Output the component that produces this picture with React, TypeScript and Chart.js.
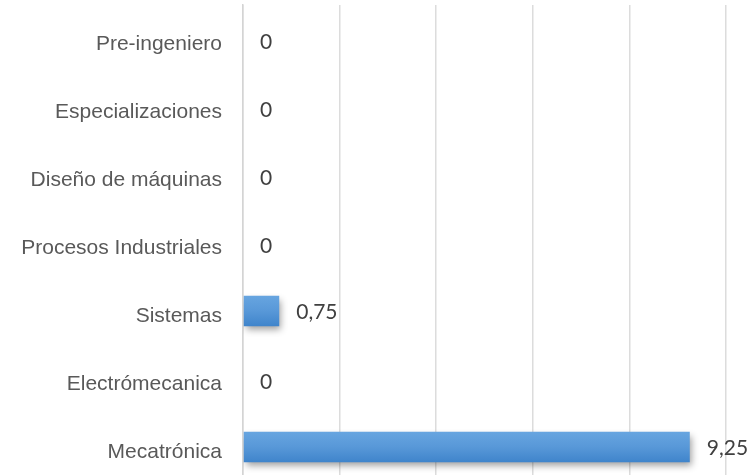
import React, { useEffect, useRef } from "react";
import { Chart, registerables } from "chart.js";

Chart.register(...registerables);

const categories = [
  "Pre-ingeniero",
  "Especializaciones",
  "Diseño de máquinas",
  "Procesos Industriales",
  "Sistemas",
  "Electrómecanica",
  "Mecatrónica",
];
const values = [0, 0, 0, 0, 0.75, 0, 9.25];
const valueLabels = ["0", "0", "0", "0", "0,75", "0", "9,25"];

const shadowPlugin = {
  id: "barShadow",
  beforeDatasetsDraw(chart: any) {
    const ctx = chart.ctx;
    const meta = chart.getDatasetMeta(0);
    meta.data.forEach((bar: any) => {
      const h = bar.height || 30;
      if (!isFinite(bar.y)) return;
      const g = ctx.createLinearGradient(0, bar.y - h / 2, 0, bar.y + h / 2);
      g.addColorStop(0, "#67a5e0");
      g.addColorStop(0.5, "#5898d8");
      g.addColorStop(1, "#3f84cb");
      bar.options = Object.assign({}, bar.options, { backgroundColor: g });
    });
    ctx.save();
    ctx.shadowColor = "rgba(0,0,0,0.38)";
    ctx.shadowBlur = 7;
    ctx.shadowOffsetX = 2;
    ctx.shadowOffsetY = 4;
  },
  afterDatasetsDraw(chart: any) {
    chart.ctx.restore();
    const ctx = chart.ctx;
    const meta = chart.getDatasetMeta(0);
    ctx.save();
    ctx.font = "21px Lato, 'Open Sans', sans-serif";
    ctx.fillStyle = "#404040";
    ctx.textAlign = "left";
    ctx.textBaseline = "middle";
    meta.data.forEach((bar: any, i: number) => {
      const dy = values[i] === 0 ? 3.5 : 1.5;
      ctx.fillText(valueLabels[i], bar.x + 17, bar.y + dy);
    });
    ctx.restore();
  },
};

export default function App() {
  const ref = useRef<HTMLCanvasElement>(null);
  useEffect(() => {
    document.body.style.margin = "0";
    document.body.style.overflow = "hidden";
    const chart = new Chart(ref.current!, {
      type: "bar",
      data: {
        labels: categories,
        datasets: [
          {
            data: values,
            backgroundColor: () => "#5b9bd5",
            borderWidth: 0,
            barPercentage: 0.45,
            categoryPercentage: 1,
          },
        ],
      },
      options: {
        indexAxis: "y",
        animation: false,
        responsive: false,
        devicePixelRatio: 1,
        layout: { padding: { top: 5, bottom: 9, left: 0, right: 28 } },
        plugins: {
          legend: { display: false },
          tooltip: { enabled: false },
          title: { display: false },
        },
        scales: {
          x: {
            min: 0,
            max: 10,
            ticks: { display: false, stepSize: 2 },
            grid: { color: "#dcdcdc", lineWidth: 1.5, drawTicks: false },
            border: { display: false },
          },
          y: {
            afterFit: (s: any) => {
              s.width = 243;
              s.paddingTop = 0;
              s.paddingBottom = 0;
            },
            ticks: {
              color: "#595959",
              font: { family: "'Liberation Sans', Arial, sans-serif", size: 21 },
              padding: 21,
              labelOffset: 5,
            },
            grid: { display: false, drawTicks: false },
            border: { display: true, color: "#d4d4d4", width: 1.5 },
          },
        },
      },
      plugins: [shadowPlugin],
    });
    return () => chart.destroy();
  }, []);
  return (
    <div style={{ position: "fixed", left: 0, top: 0, width: 754, height: 475, overflow: "hidden", background: "#fff" }}>
      <canvas ref={ref} width={754} height={490} style={{ display: "block", width: 754, height: 490 }} />
    </div>
  );
}
